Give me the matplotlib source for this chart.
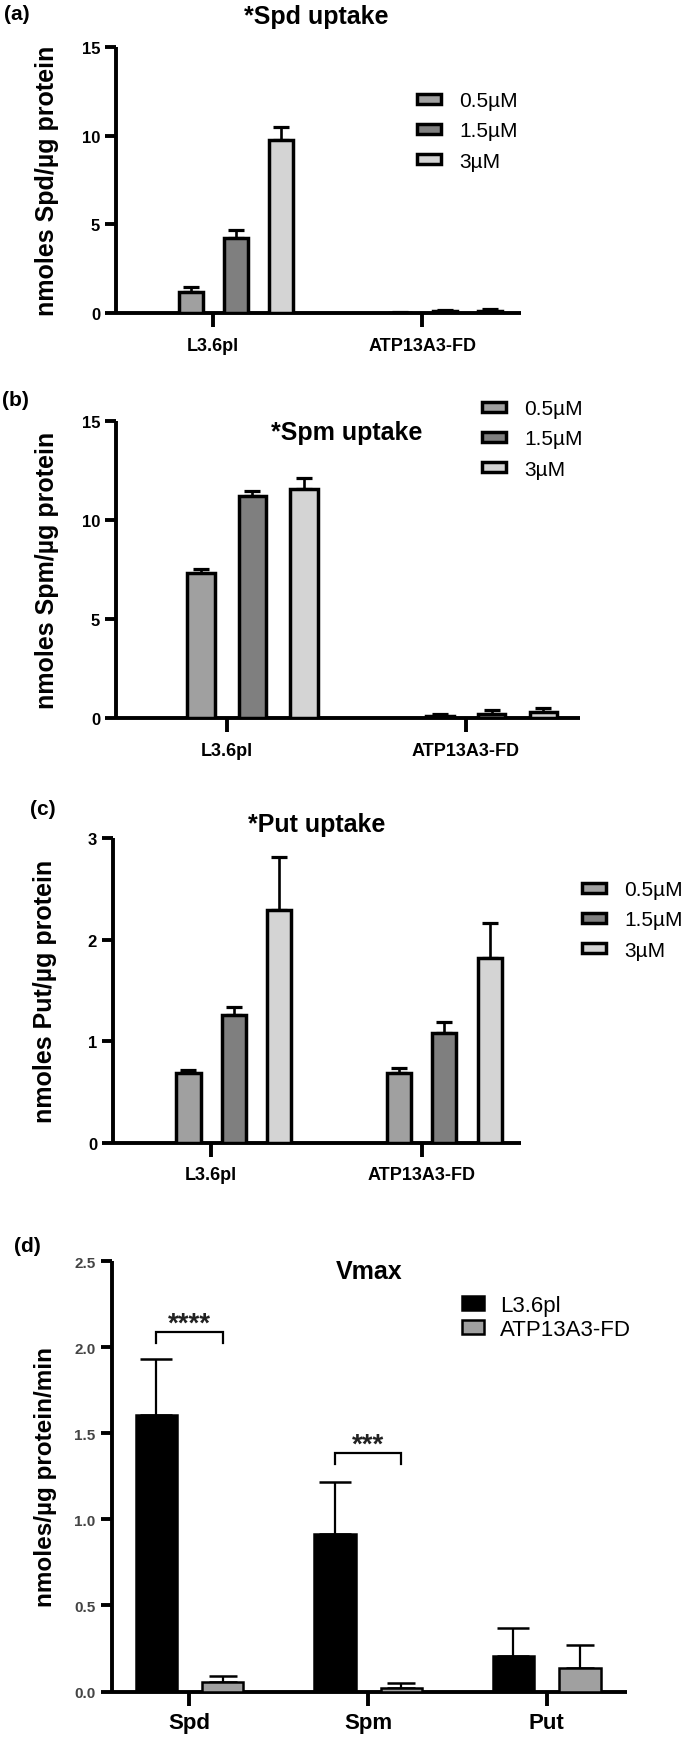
import matplotlib
matplotlib.use('Agg')
import matplotlib.pyplot as plt
import numpy as np

plt.rcParams['font.family'] = ['Liberation Sans', 'DejaVu Sans']

# ---------------- data ----------------
cells = ['L3.6pl', 'ATP13A3-FD']
conc_labels = ['0.5µM', '1.5µM', '3µM']
conc_colors = ['#a0a0a0', '#7f7f7f', '#d4d4d4']

# (a) spermidine uptake  [L3.6pl, ATP13A3-FD]
spd_05 = [1.20, 0.02]
spd_05_err = [0.27, 0.02]
spd_15 = [4.25, 0.10]
spd_15_err = [0.45, 0.07]
spd_3 = [9.78, 0.13]
spd_3_err = [0.73, 0.09]

# (b) spermine uptake
spm_05 = [7.30, 0.12]
spm_05_err = [0.20, 0.10]
spm_15 = [11.18, 0.20]
spm_15_err = [0.27, 0.18]
spm_3 = [11.57, 0.28]
spm_3_err = [0.55, 0.20]

# (c) putrescine uptake
put_05 = [0.69, 0.69]
put_05_err = [0.03, 0.05]
put_15 = [1.26, 1.08]
put_15_err = [0.08, 0.11]
put_3 = [2.29, 1.82]
put_3_err = [0.53, 0.35]

# (d) Vmax
vmax_groups = ['Spd', 'Spm', 'Put']
vmax_L = [1.61, 0.918, 0.205]
vmax_L_err = [0.324, 0.300, 0.165]
vmax_FD = [0.057, 0.019, 0.135]
vmax_FD_err = [0.034, 0.028, 0.135]
sig_groups = [0, 1]
sig_heights = [2.09, 1.387]
sig_labels = ['****', '***']

# ---------------- layout helpers ----------------
W, H = 685, 1740
fig = plt.figure(figsize=(W / 100, H / 100), dpi=100)


def px_axes(x0, ytop, x1, ybot):
    return fig.add_axes([x0 / W, 1 - ybot / H, (x1 - x0) / W, (ybot - ytop) / H])


def ftext(x, y, s, **kw):
    fig.text(x / W, 1 - y / H, s, **kw)


def style_axes(ax, lw=2.8):
    for sp in ['top', 'right']:
        ax.spines[sp].set_visible(False)
    for sp in ['left', 'bottom']:
        ax.spines[sp].set_linewidth(lw)
        ax.spines[sp].set_capstyle('butt')


def uptake_panel(box, means, errs, ylim, yticks, xlim, title, title_xy,
                 letter, letter_xy, ylabel, ylabel_xy, leg_xy):
    ax = px_axes(*box)
    style_axes(ax)
    xs = np.arange(len(cells))
    offsets = [-0.107, 0.108, 0.324]
    for k in range(3):
        x = xs + offsets[k]
        ax.errorbar(x, means[k], yerr=[np.zeros(len(cells)), errs[k]], fmt='none',
                    ecolor='black', elinewidth=1.9, capsize=6, capthick=2.3, zorder=2)
        ax.bar(x, means[k], width=0.115, color=conc_colors[k], edgecolor='black',
               linewidth=2.5, label=conc_labels[k], zorder=3)
    ax.set_xlim(*xlim)
    ax.set_ylim(*ylim)
    ax.set_yticks(yticks, labels=[str(t) for t in yticks], fontweight='bold', fontsize=12)
    ax.set_xticks(xs, labels=cells, fontweight='bold', fontsize=13)
    ax.tick_params(axis='y', length=8, width=2.8, pad=3.5)
    ax.tick_params(axis='x', length=10, width=2.8, pad=7)
    ftext(*title_xy, title, ha='center', va='center', fontsize=18, fontweight='bold')
    ftext(*letter_xy, letter, ha='center', va='center', fontsize=15, fontweight='bold')
    ftext(*ylabel_xy, ylabel, ha='center', va='center', rotation=90,
          fontsize=18, fontweight='bold')
    ax.legend(loc='upper left', bbox_to_anchor=(leg_xy[0] / W, 1 - leg_xy[1] / H),
              bbox_transform=fig.transFigure, frameon=False, fontsize=15,
              handlelength=1.15, handleheight=0.36, handletextpad=0.87,
              labelspacing=0.55, borderpad=0, borderaxespad=0)
    return ax


# (a)
uptake_panel((116, 48, 520.6, 314),
             [spd_05, spd_15, spd_3], [spd_05_err, spd_15_err, spd_3_err],
             (0, 15), [0, 5, 10, 15], (-0.465, 1.47),
             '*Spd uptake', (316, 17), '(a)', (17, 15),
             'nmoles Spd/µg protein', (47, 181), (417, 92))

# (b)
uptake_panel((116, 421.7, 580, 719),
             [spm_05, spm_15, spm_3], [spm_05_err, spm_15_err, spm_3_err],
             (0, 15), [0, 5, 10, 15], (-0.462, 1.477),
             '*Spm uptake', (347, 433), '(b)', (15, 401),
             'nmoles Spm/µg protein', (47, 570), (482, 400))

# (c)
uptake_panel((113, 839.3, 520.6, 1143.7),
             [put_05, put_15, put_3], [put_05_err, put_15_err, put_3_err],
             (0, 3), [0, 1, 2, 3], (-0.465, 1.47),
             '*Put uptake', (317, 825), '(c)', (43, 810),
             'nmoles Put/µg protein', (45, 991), (582, 881))

# (d)
axd = px_axes(111.6, 1262.4, 627, 1692.5)
style_axes(axd)
xg = np.arange(len(vmax_groups))
off = 0.186
axd.errorbar(xg - off, vmax_L, yerr=[np.zeros(3), vmax_L_err], fmt='none',
             ecolor='black', elinewidth=1.6, capsize=11.5, capthick=1.8, zorder=2)
axd.errorbar(xg + off, vmax_FD, yerr=[np.zeros(3), vmax_FD_err], fmt='none',
             ecolor='black', elinewidth=1.6, capsize=10, capthick=1.8, zorder=2)
axd.bar(xg - off, vmax_L, width=0.232, color='black', edgecolor='black',
        linewidth=1.8, label='L3.6pl', zorder=3)
axd.bar(xg + off, vmax_FD, width=0.232, color='#a0a0a0', edgecolor='black',
        linewidth=1.8, label='ATP13A3-FD', zorder=3)
for g, hgt, lab in zip(sig_groups, sig_heights, sig_labels):
    axd.plot([g - off, g - off, g + off, g + off], [hgt - 0.067, hgt, hgt, hgt - 0.067],
             color='black', lw=1.6, solid_joinstyle='miter', zorder=4)
    axd.text(g, hgt + 0.01, lab, ha='center', va='baseline', fontsize=20,
             fontweight='bold', color='#222222')
axd.set_xlim(-0.436, 2.45)
axd.set_ylim(0, 2.5)
yt = [0.0, 0.5, 1.0, 1.5, 2.0, 2.5]
axd.set_yticks(yt, labels=[f'{t:.1f}' for t in yt], fontweight='bold', fontsize=11,
               color='#444444')
axd.set_xticks(xg, labels=vmax_groups, fontweight='bold', fontsize=16)
axd.tick_params(axis='y', length=8, width=2.8, pad=3.5)
axd.tick_params(axis='x', length=10, width=2.8, pad=5)
ftext(369, 1272, 'Vmax', ha='center', va='center', fontsize=18, fontweight='bold')
ftext(27, 1247, '(d)', ha='center', va='center', fontsize=15, fontweight='bold')
ftext(46, 1477, 'nmoles/µg protein/min', ha='center', va='center', rotation=90,
      fontsize=17.5, fontweight='bold')
axd.legend(loc='upper left', bbox_to_anchor=(462 / W, 1 - 1296 / H),
           bbox_transform=fig.transFigure, frameon=False, fontsize=16,
           handlelength=1.0, handleheight=0.55, handletextpad=0.7,
           labelspacing=0.12, borderpad=0, borderaxespad=0)

fig.savefig('out.png', dpi=100, facecolor='white')
